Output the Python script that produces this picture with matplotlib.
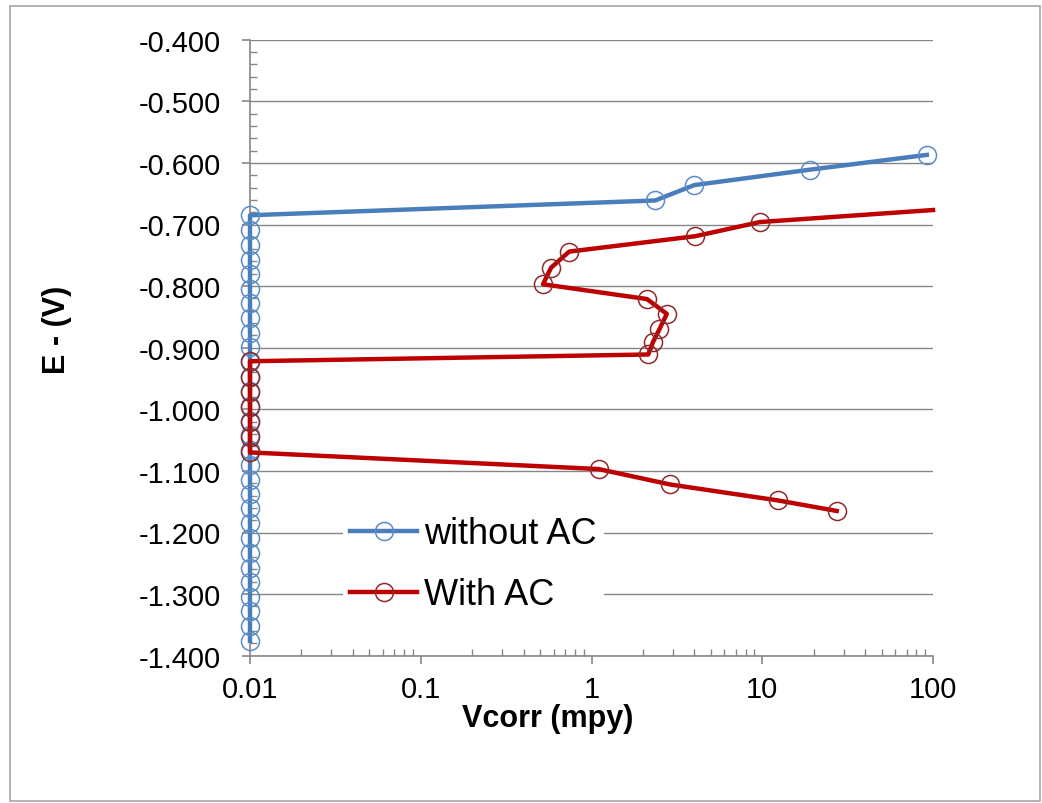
import matplotlib
matplotlib.use("Agg")
import matplotlib.pyplot as plt
from matplotlib.ticker import FixedLocator, FormatStrFormatter, LogLocator, NullFormatter, FuncFormatter
from matplotlib.patches import Rectangle

plt.rcParams['font.family'] = ['Liberation Sans', 'DejaVu Sans']
plt.rcParams['axes.unicode_minus'] = False

# ---- data ----
without_ac_v = [0.01, 0.01, 0.01, 0.01, 0.01, 0.01, 0.01, 0.01, 0.01, 0.01,
                0.01, 0.01, 0.01, 0.01, 0.01, 0.01, 0.01, 0.01, 0.01, 0.01,
                0.01, 0.01, 0.01, 0.01, 0.01, 0.01, 0.01, 0.01, 0.01, 0.01,
                2.36, 4.0, 19.0, 92.0]
without_ac_e = [-1.376, -1.352, -1.328, -1.304, -1.280, -1.257, -1.233, -1.209,
                -1.185, -1.161, -1.138, -1.114, -1.090, -1.066, -1.042, -1.019,
                -0.995, -0.971, -0.947, -0.923, -0.899, -0.876, -0.852, -0.828,
                -0.804, -0.780, -0.757, -0.733, -0.709, -0.685,
                -0.661, -0.636, -0.611, -0.587]

with_ac_v = [27.3, 12.4, 2.88, 1.1, 0.01, 0.01, 0.01, 0.01, 0.01, 0.01, 0.01,
             2.15, 2.29, 2.5, 2.76, 2.11, 0.52, 0.58, 0.74, 4.05, 9.7, 100.0]
with_ac_e = [-1.165, -1.148, -1.122, -1.097, -1.070, -1.045, -1.021, -0.996,
             -0.972, -0.947, -0.922, -0.911, -0.891, -0.870, -0.845, -0.821,
             -0.797, -0.770, -0.744, -0.719, -0.696, -0.6765]

series_labels = ["without AC", "With AC"]
y_ticks = [-1.4, -1.3, -1.2, -1.1, -1.0, -0.9, -0.8, -0.7, -0.6, -0.5, -0.4]
x_ticks = [0.01, 0.1, 1, 10, 100]
x_tick_labels = ["0.01", "0.1", "1", "10", "100"]

W, H = 1042, 804
fig = plt.figure(figsize=(W / 100, H / 100), dpi=100)
fig.patch.set_facecolor('white')
fig.patches.append(Rectangle((10 / W, 1 - 802 / H), 1030 / W, 795 / H,
                             transform=fig.transFigure, fill=False,
                             edgecolor='#A6A6A6', linewidth=1.2))

ax = fig.add_axes([250 / W, 1 - 656.7 / H, 683 / W, 616 / H])

blue = '#4A7EBB'
red = '#BE0000'
gridc = '#868686'

ax.plot(without_ac_v, without_ac_e,
        color=blue, lw=3.2, marker='o', markersize=13, markerfacecolor='none',
        markeredgecolor='#5B8CC8', markeredgewidth=1.1, label=series_labels[0],
        zorder=3, clip_on=False)
ax.plot(with_ac_v, with_ac_e,
        color=red, lw=3.2, marker='o', markersize=13, markerfacecolor='none',
        markeredgecolor='#8E2A2A', markeredgewidth=1.1, label=series_labels[1],
        markevery=list(range(len(with_ac_v) - 1)),
        zorder=4, clip_on=False)

ax.set_xscale('log')
ax.set_xlim(0.01, 100)
ax.set_ylim(-1.4, -0.4)

ax.xaxis.set_major_locator(FixedLocator(x_ticks))
ax.xaxis.set_major_formatter(FuncFormatter(lambda v, p: x_tick_labels[x_ticks.index(v)] if v in x_ticks else ""))
ax.xaxis.set_minor_locator(LogLocator(base=10, subs=[2, 3, 4, 5, 6, 7, 8, 9]))
ax.xaxis.set_minor_formatter(NullFormatter())

ax.yaxis.set_major_locator(FixedLocator(y_ticks))
ax.yaxis.set_major_formatter(FormatStrFormatter('%.3f'))
ax.yaxis.set_minor_locator(FixedLocator([-1.4 + 0.02 * i for i in range(51)]))

for s in ['top', 'right']:
    ax.spines[s].set_visible(False)
for s in ['left', 'bottom']:
    ax.spines[s].set_color(gridc)
    ax.spines[s].set_linewidth(1.2)

ax.grid(axis='y', which='major', color=gridc, linewidth=1.0)
ax.set_axisbelow(True)

ax.tick_params(axis='both', which='major', direction='out', length=6, width=1.2,
               color=gridc, labelsize=21, labelcolor='black')
ax.tick_params(axis='y', which='major', pad=15)
ax.tick_params(axis='x', which='major', pad=8)
ax.tick_params(axis='both', which='minor', direction='in', length=5, width=1.0,
               color=gridc)

ax.set_xlabel('Vcorr (mpy)', fontsize=22, fontweight='bold', va='center')
ax.xaxis.set_label_coords((548 - 250) / 683, (656.7 - 719) / 616)
ax.set_ylabel('E - (V)', fontsize=22, fontweight='bold', va='center')
ax.yaxis.set_label_coords((57 - 250) / 683, (656.7 - 330) / 616)

leg = ax.legend(loc='upper left', bbox_to_anchor=((343 - 250) / 683, (656.7 - 510) / 616),
                frameon=True, fontsize=26, handlelength=1.85, handletextpad=0.2,
                labelspacing=0.72, borderpad=0.2, borderaxespad=0)
leg.get_frame().set_facecolor('white')
leg.get_frame().set_edgecolor('none')
leg.get_frame().set_alpha(1.0)
leg.set_zorder(5)

fig.savefig('out.png', dpi=100, facecolor='white')
